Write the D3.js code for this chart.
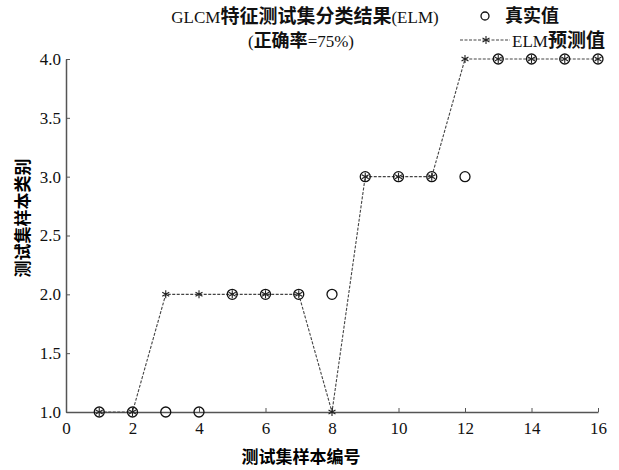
<!DOCTYPE html>
<html>
<head>
<meta charset="utf-8">
<script src="https://cdn.jsdelivr.net/npm/d3@7"></script>
<style>
    body { margin: 0; background: #fff; }
    .serif { font-family: "Liberation Serif", "DejaVu Serif", serif; }
    .zh { font-family: "Noto Sans CJK SC", sans-serif; font-weight: bold; }
</style>
</head>
<body>
<div id="wrapper"></div>
<script>
const samples = [1, 2, 3, 4, 5, 6, 7, 8, 9, 10, 11, 12, 13, 14, 15, 16];
const actual = [1, 1, 1, 1, 2, 2, 2, 2, 3, 3, 3, 3, 4, 4, 4, 4];
const predicted = [1, 1, 2, 2, 2, 2, 2, 1, 3, 3, 3, 4, 4, 4, 4, 4];
const xTicks = [0, 2, 4, 6, 8, 10, 12, 14, 16];
const yTicks = [1.0, 1.5, 2.0, 2.5, 3.0, 3.5, 4.0];

// mixed latin / chinese text: latin in serif, chinese in a heavier CJK face
function mixedText(sel, str, latinSize, zhSize) {
    const parts = str.match(/[\u4e00-\u9fff]+|[^\u4e00-\u9fff]+/g);
    parts.forEach(p => {
        const isZh = /[\u4e00-\u9fff]/.test(p);
        sel.append("tspan")
            .attr("class", isZh ? "zh" : "serif")
            .attr("font-size", isZh ? zhSize : latinSize)
            .text(p);
    });
    return sel;
}

function build() {
    var dimension = {
        width: 619,
        height: 470,
        margin: { top: 59, right: 21, bottom: 58, left: 66 }
    };
    dimension.boundedWidth = dimension.width - dimension.margin.left - dimension.margin.right;
    dimension.boundedHeight = dimension.height - dimension.margin.top - dimension.margin.bottom;

    const svg = d3.select("#wrapper")
        .append("svg")
        .attr("width", dimension.width)
        .attr("height", dimension.height);

    const bounds = svg.append("g")
        .attr("transform", `translate(${dimension.margin.left},${dimension.margin.top})`);

    const x = d3.scaleLinear().domain([0, 16]).range([0, dimension.boundedWidth]);
    const y = d3.scaleLinear().domain([1, 4]).range([dimension.boundedHeight, 0]);

    // axes, ticks pointing inward
    const xAxis = bounds.append("g")
        .attr("transform", `translate(0,${dimension.boundedHeight})`)
        .call(d3.axisBottom(x).tickValues(xTicks).tickSizeInner(-4).tickSizeOuter(0).tickPadding(8));
    const yAxis = bounds.append("g")
        .call(d3.axisLeft(y).tickValues(yTicks).tickFormat(d3.format(".1f")).tickSizeInner(-4).tickSizeOuter(0).tickPadding(5));

    [xAxis, yAxis].forEach(a => {
        a.select(".domain").attr("stroke", "#555").attr("stroke-width", 1.5);
        a.selectAll(".tick line").attr("stroke", "#555");
        a.selectAll("text")
            .attr("class", "serif")
            .attr("font-size", 17)
            .attr("fill", "#111");
    });
    xAxis.selectAll("text").attr("dy", "0.85em");

    const line = d3.line()
        .x((d, i) => x(samples[i]))
        .y(d => y(d));

    bounds.append("path")
        .datum(predicted)
        .attr("d", line)
        .attr("fill", "none")
        .attr("stroke", "#444")
        .attr("stroke-width", 1.1)
        .attr("stroke-dasharray", "3,1.5");

    // true values: circles
    bounds.selectAll("circle.actual")
        .data(actual)
        .enter()
        .append("circle")
        .attr("class", "actual")
        .attr("cx", (d, i) => x(samples[i]))
        .attr("cy", d => y(d))
        .attr("r", 5)
        .attr("fill", "none")
        .attr("stroke", "#111")
        .attr("stroke-width", 1.3);

    // predictions: asterisks
    const star = d3.symbol().type(d3.symbolAsterisk).size(45);
    bounds.selectAll("path.pred")
        .data(predicted)
        .enter()
        .append("path")
        .attr("class", "pred")
        .attr("transform", (d, i) => `translate(${x(samples[i])},${y(d)})`)
        .attr("d", star)
        .attr("fill", "none")
        .attr("stroke", "#222")
        .attr("stroke-width", 1.1);

    // titles
    mixedText(svg.append("text")
        .attr("x", 305).attr("y", 23)
        .attr("text-anchor", "middle")
        .attr("fill", "#111"), "GLCM特征测试集分类结果(ELM)", 17, 19);
    mixedText(svg.append("text")
        .attr("x", 301).attr("y", 47)
        .attr("text-anchor", "middle")
        .attr("fill", "#111"), "(正确率=75%)", 17, 18);

    svg.append("text")
        .attr("class", "zh")
        .attr("x", 301).attr("y", 463)
        .attr("text-anchor", "middle")
        .attr("font-size", 17)
        .text("测试集样本编号");
    svg.append("text")
        .attr("class", "zh")
        .attr("transform", "translate(29,218) rotate(-90)")
        .attr("text-anchor", "middle")
        .attr("font-size", 17)
        .text("测试集样本类别");

    // legend
    const legend = svg.append("g");
    legend.append("circle")
        .attr("cx", 485).attr("cy", 16).attr("r", 4)
        .attr("fill", "none").attr("stroke", "#111").attr("stroke-width", 1.3);
    mixedText(legend.append("text")
        .attr("x", 505).attr("y", 22)
        .attr("fill", "#111"), "真实值", 17, 18);
    legend.append("line")
        .attr("x1", 460).attr("x2", 510).attr("y1", 40).attr("y2", 40)
        .attr("stroke", "#444").attr("stroke-width", 1.1).attr("stroke-dasharray", "3,1.5");
    legend.append("path")
        .attr("transform", "translate(486,40)")
        .attr("d", star)
        .attr("fill", "none").attr("stroke", "#222").attr("stroke-width", 1.1);
    mixedText(legend.append("text")
        .attr("x", 512).attr("y", 47)
        .attr("fill", "#111"), "ELM预测值", 17, 19);
}

build();
</script>
</body>
</html>
